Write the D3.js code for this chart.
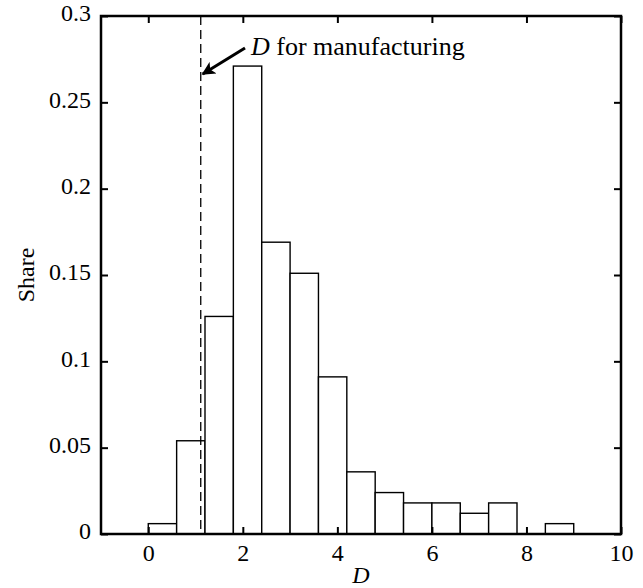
<!DOCTYPE html>
<meta charset="utf-8">
<style>
  body{
    margin:0;
    background:#fff;
  }

  text{
    font-family: "Liberation Serif", "Times New Roman", serif;
    fill:#000;
  }

  .tick text{
    font-size:24px;
  }

  .axisLabel{
    font-size:24px;
  }

  .note{
    font-size:26px;
  }

  rect.bar{
    fill:#fff;
    stroke:#000;
    stroke-width:1.4px;
  }
</style>
<body>
<div id="container"></div>
<script src="https://d3js.org/d3.v7.min.js"></script>
<script>

// histogram of D, bins are 0.6 wide
var binStart = [0, 0.6, 1.2, 1.8, 2.4, 3.0, 3.6, 4.2, 4.8, 5.4, 6.0, 6.6, 7.2, 7.8, 8.4];
var share    = [0.006, 0.054, 0.126, 0.271, 0.169, 0.151, 0.091, 0.036, 0.024, 0.018, 0.018, 0.012, 0.018, 0, 0.006];
var binWidth = 0.6;

var xTicks = [0, 2, 4, 6, 8, 10];
var yTicks = [0, 0.05, 0.1, 0.15, 0.2, 0.25, 0.3];

var manufacturingD = 1.11;

var svg = d3.select('#container').append('svg').attr('width',643).attr('height',588);

// (window.top is taken, hence the names)
var pLeft = 101, pRight = 621, pTop = 16, pBottom = 534;

var x = d3.scaleLinear().domain([-1,10]).range([pLeft,pRight]);
var y = d3.scaleLinear().domain([0,0.3]).range([pBottom,pTop]);

var bins = binStart.map(function(d,i){ return {x0:d, x1:d+binWidth, v:share[i]}; })
  .filter(function(b){ return b.v > 0; });

// bars
svg.append('g').selectAll('rect').data(bins).enter().append('rect')
  .attr('class','bar')
  .attr('x', function(d){ return x(d.x0); })
  .attr('width', function(d){ return x(d.x1) - x(d.x0); })
  .attr('y', function(d){ return y(d.v); })
  .attr('height', function(d){ return y(0) - y(d.v); });

// dashed line
svg.append('line')
  .attr('x1', x(manufacturingD)).attr('x2', x(manufacturingD))
  .attr('y1', y(0.3)).attr('y2', y(0))
  .attr('stroke','#000').attr('stroke-width',1.3).attr('stroke-dasharray','9,5');

// axes, ticks pointing inwards like matlab
var tickLen = 7;
var xAxis = svg.append('g').attr('transform','translate(0,'+pBottom+')')
  .call(d3.axisBottom(x).tickValues(xTicks).tickSize(-tickLen).tickPadding(10).tickFormat(d3.format('d')));
var xTop = svg.append('g').attr('transform','translate(0,'+pTop+')')
  .call(d3.axisTop(x).tickValues(xTicks).tickSize(-tickLen).tickFormat(''));
var yAxis = svg.append('g').attr('transform','translate('+pLeft+',0)')
  .call(d3.axisLeft(y).tickValues(yTicks).tickSize(-tickLen).tickPadding(10).tickFormat(function(d){ return String(+d.toFixed(2)); }));
var yRight = svg.append('g').attr('transform','translate('+pRight+',0)')
  .call(d3.axisRight(y).tickValues(yTicks).tickSize(-tickLen).tickFormat(''));

[xAxis, xTop, yAxis, yRight].forEach(function(a){
  a.select('.domain').remove();
  a.selectAll('.tick line').attr('stroke','#000').attr('stroke-width',2);
  a.selectAll('.tick text').attr('fill','#000');
});
xAxis.selectAll('.tick text').attr('dy','0.72em');
yAxis.selectAll('.tick text').attr('dy','0.2em');

svg.append('rect')
  .attr('x',pLeft).attr('y',pTop).attr('width',pRight-pLeft).attr('height',pBottom-pTop)
  .attr('fill','none').attr('stroke','#000').attr('stroke-width',2.5);

// labels
svg.append('text').attr('class','axisLabel')
  .attr('x', (pLeft+pRight)/2).attr('y', 583)
  .attr('text-anchor','middle').style('font-style','italic').text('D');

svg.append('text').attr('class','axisLabel')
  .attr('transform','translate(34,'+((pTop+pBottom)/2)+') rotate(-90)')
  .attr('text-anchor','middle').text('Share');

// annotation arrow
svg.append('defs').append('marker')
  .attr('id','head').attr('viewBox','0 0 10 10').attr('refX',9).attr('refY',5)
  .attr('markerWidth',5).attr('markerHeight',4.5).attr('orient','auto')
  .append('path').attr('d','M0,0L10,5L0,10L2.5,5z').attr('fill','#000');

svg.append('line')
  .attr('x1',245).attr('y1',48)
  .attr('x2',x(manufacturingD)+2).attr('y2',74)
  .attr('stroke','#000').attr('stroke-width',3).attr('marker-end','url(#head)');

var note = svg.append('text').attr('class','note').attr('x',251).attr('y',55);
note.append('tspan').style('font-style','italic').text('D');
note.append('tspan').text(' for manufacturing');

</script>
</body>
</html>
